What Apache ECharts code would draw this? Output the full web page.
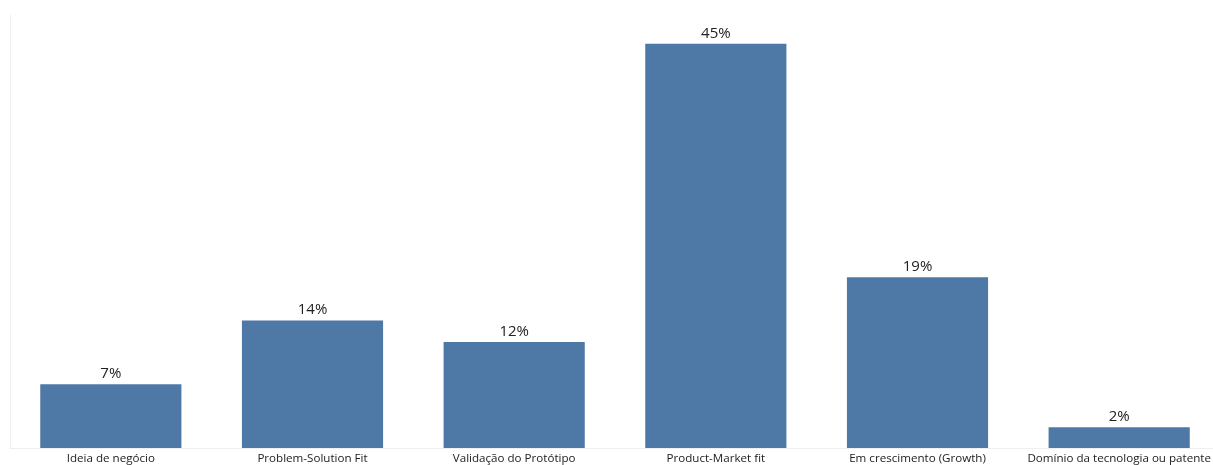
<!DOCTYPE html>
<html>
<head>
<meta charset="utf-8">
<script src="https://cdn.jsdelivr.net/npm/echarts@6/dist/echarts.min.js"></script>
<style>html,body{margin:0;padding:0;background:#fff;overflow:hidden;width:1213px;height:465px;}#c{width:1220px;height:465px;}</style>
</head>
<body>
<div id="c"></div>
<script>
var categories = ["Ideia de negócio", "Problem-Solution Fit", "Validação do Protótipo", "Product-Market fit", "Em crescimento (Growth)", "Domínio da tecnologia ou patente"];
var values = [7.1, 14.2, 11.8, 45, 19, 2.3];

var chart = echarts.init(document.getElementById('c'));
chart.setOption({
  animation: false,
  grid: {left: 10, right: 0, top: 15, bottom: 17},
  xAxis: {
    type: 'category',
    data: categories,
    axisLine: {show: true, lineStyle: {color: '#efefef', width: 1}},
    axisTick: {show: false},
    axisLabel: {color: '#222', fontFamily: 'Open Sans', fontSize: 11.6, margin: 5, interval: 0}
  },
  yAxis: {
    type: 'value',
    min: 0,
    max: 48.2,
    axisLine: {show: true, lineStyle: {color: '#efefef', width: 1}},
    axisTick: {show: false},
    axisLabel: {show: false},
    splitLine: {show: false}
  },
  series: [{
    type: 'bar',
    data: values,
    barWidth: '70%',
    itemStyle: {color: '#4e79a7'},
    label: {
      show: true,
      position: 'top',
      distance: 3,
      color: '#222',
      fontFamily: 'Open Sans',
      fontSize: 15,
      formatter: function (p) { return Math.round(p.value) + '%'; }
    }
  }]
});
</script>
</body>
</html>
